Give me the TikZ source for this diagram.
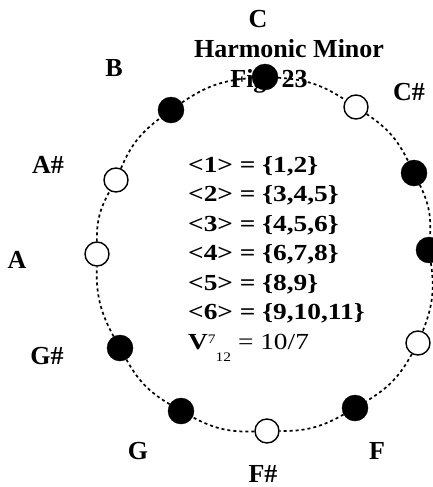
\documentclass[tikz,border=0pt]{standalone}
\usepackage{fontspec}
\setmainfont{Liberation Serif}

\tikzset{
  inscale/.style={circle, draw, fill=black, minimum size=26pt, inner sep=0pt},
  outscale/.style={circle, draw, line width=1.4pt, fill=white, minimum size=24pt, inner sep=0pt},
  ring/.style={line width=1.7pt, dash pattern=on 3pt off 3pt},
  note/.style={font=\bfseries\fontsize{26}{26}\selectfont, inner sep=0pt},
}

\begin{document}
\begin{tikzpicture}[x=1pt, y=-1pt]
\useasboundingbox (0,0) rectangle (433,487);
% title
\node[note, anchor=base] (title) at (289,57) {Harmonic Minor};
\node[note, anchor=base] (fig) at (269,87) {Fig. 23};
% tones of the scale
\node[inscale]  (C)  at (265,77)  {};
\node[outscale] (Cs) at (356,107) {};
\node[inscale]  (D)  at (414,173) {};
\node[inscale]  (Ds) at (429,250) {};
\node[outscale] (E)  at (418,343) {};
\node[inscale]  (F)  at (355,408) {};
\node[outscale] (Fs) at (267,431) {};
\node[inscale]  (G)  at (181,411) {};
\node[inscale]  (Gs) at (120,348) {};
\node[outscale] (A)  at (97,254)  {};
\node[outscale] (As) at (116,180) {};
\node[inscale]  (B)  at (171,110) {};
%
\path[ring]
  (C)  edge [bend left=15] (Cs)
  (Cs) edge [bend left=15] (D)
  (D)  edge [bend left=15] (Ds)
  (Ds) edge [bend left=15] (E)
  (E)  edge [bend left=15] (F)
  (F)  edge [bend left=15] (Fs)
  (Fs) edge [bend left=15] (G)
  (G)  edge [bend left=15] (Gs)
  (Gs) edge [bend left=15] (A)
  (A)  edge [bend left=15] (As)
  (As) edge [bend left=15] (B)
  (B)  edge [bend left=15] (C);
% note names
\node[note] (nC)  at (258,19)  {C};
\node[note] (nCs) at (409,92)  {C\#};
\node[note] (nB)  at (114,68)  {B};
\node[note] (nAs) at (48,165)  {A\#};
\node[note] (nA)  at (17,260)  {A};
\node[note] (nGs) at (47,356)  {G\#};
\node[note] (nG)  at (138,451) {G};
\node[note] (nFs) at (263,474) {F\#};
\node[note] (nF)  at (377,451) {F};
% sets
\node[inner sep=0pt, anchor=base west, font=\bfseries\fontsize{23}{29.5}\selectfont] (sets) at (188,172)
  {\scalebox{1.19}[1]{\begin{tabular}[t]{@{}l@{}}
    <1> = \{1,2\}\\
    <2> = \{3,4,5\}\\
    <3> = \{4,5,6\}\\
    <4> = \{6,7,8\}\\
    <5> = \{8,9\}\\
    <6> = \{9,10,11\}\\
    V\raisebox{6pt}{\fontsize{13}{13}\selectfont\mdseries 7}\raisebox{-12pt}{\fontsize{13}{13}\selectfont\mdseries 12}\mdseries{} = 10/7
  \end{tabular}}};
\end{tikzpicture}
\end{document}
